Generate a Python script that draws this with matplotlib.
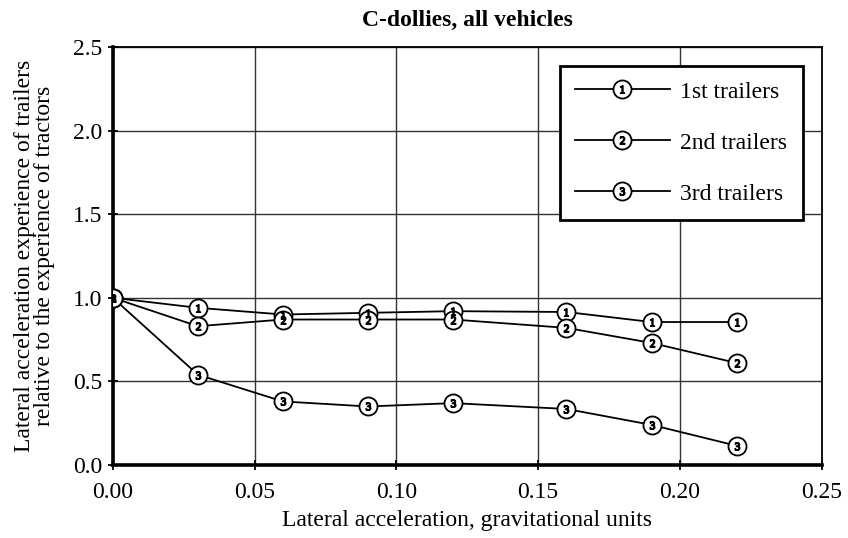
import matplotlib
matplotlib.use("Agg")
import matplotlib.pyplot as plt
from matplotlib.legend_handler import HandlerTuple

plt.rcParams["font.family"] = ["Liberation Serif", "DejaVu Serif"]
plt.rcParams["mathtext.fontset"] = "custom"
plt.rcParams["mathtext.rm"] = "Liberation Serif"
plt.rcParams["mathtext.it"] = "Liberation Serif"

# Lateral acceleration input (g) and relative experience of each trailer
accel = [0.00, 0.03, 0.06, 0.09, 0.12, 0.16, 0.19, 0.22]
first_trailers = [1.00, 0.94, 0.90, 0.91, 0.92, 0.915, 0.855, 0.855]
second_trailers = [1.00, 0.83, 0.87, 0.87, 0.87, 0.82, 0.73, 0.61]
third_trailers = [1.00, 0.54, 0.38, 0.35, 0.37, 0.335, 0.24, 0.115]

series = [
    ("1st trailers", first_trailers, "1"),
    ("2nd trailers", second_trailers, "2"),
    ("3rd trailers", third_trailers, "3"),
]

x_ticks = [0.00, 0.05, 0.10, 0.15, 0.20, 0.25]
y_ticks = [0.0, 0.5, 1.0, 1.5, 2.0, 2.5]

FS = 17

fig = plt.figure(figsize=(8.48, 5.38), dpi=100)
ax = fig.add_axes([0.133, 0.1357, 0.836, 0.777])

handles = []
for label, values, num in series:
    circ, = ax.plot(accel, values, color="black", lw=1.3, marker="o", ms=13,
                    mfc="white", mec="black", mew=1.3, zorder=3)
    digit, = ax.plot(accel, values, ls="none", marker=f"${num}$", ms=5.5,
                     color="black", zorder=4)
    handles.append(((circ, digit), label))

ax.set_xlim(0, 0.25)
ax.set_ylim(0, 2.5)
ax.set_xticks(x_ticks)
ax.set_yticks(y_ticks)
ax.set_xticklabels([f"{t:.2f}" for t in x_ticks])
ax.set_yticklabels([f"{t:.1f}" for t in y_ticks])
ax.tick_params(labelsize=FS, direction="inout", length=7, width=1.3, pad=4)
ax.tick_params(axis="x", pad=9)
ax.grid(True, color="#333333", lw=1.0)
ax.set_axisbelow(True)
for side, s in ax.spines.items():
    s.set_linewidth(2.6 if side in ("left", "bottom") else 1.3)

ax.set_title("C-dollies, all vehicles", fontsize=FS, fontweight="bold", pad=15)
ax.set_xlabel("Lateral acceleration, gravitational units", fontsize=FS, labelpad=5)
ax.set_ylabel("Lateral acceleration experience of trailers\n"
              "relative to the experience of tractors", fontsize=FS,
              linespacing=0.9)
ax.yaxis.set_label_coords(-0.082, 0.5)

leg = ax.legend([h for h, _ in handles], [l for _, l in handles],
                handler_map={tuple: HandlerTuple(ndivide=1)},
                loc="upper right", bbox_to_anchor=(0.973, 0.955),
                borderaxespad=0, fontsize=FS, frameon=True, fancybox=False,
                framealpha=1, edgecolor="black", handlelength=4.0,
                handletextpad=0.45, labelspacing=1.25, borderpad=0.65)
leg.get_frame().set_linewidth(2.0)

fig.savefig("out.png", dpi=100)
